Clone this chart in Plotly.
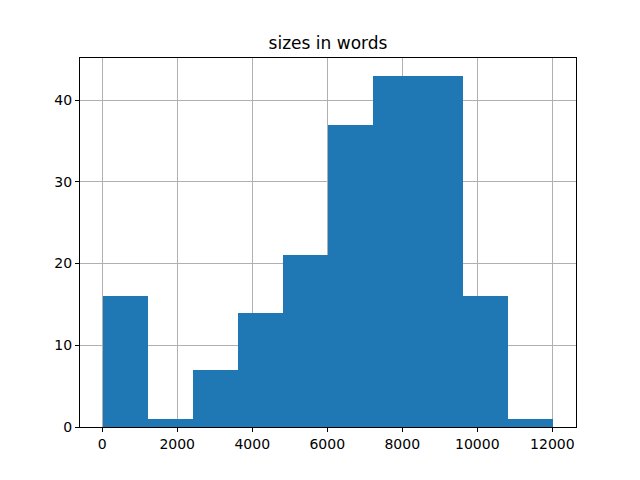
import plotly.graph_objects as go

# Histogram data (bin edges and counts)
bin_edges = [10, 1212, 2414, 3616, 4818, 6020, 7222, 8424, 9626, 10828, 12030]
counts = [16, 1, 7, 14, 21, 37, 43, 43, 16, 1]
x_ticks = [0, 2000, 4000, 6000, 8000, 10000, 12000]
x_tick_labels = ["0", "2000", "4000", "6000", "8000", "10000", "12000"]
y_ticks = [0, 10, 20, 30, 40]
y_tick_labels = ["0", "10", "20", "30", "40"]
title_text = "sizes in words"

centers = [(a + b) / 2 for a, b in zip(bin_edges[:-1], bin_edges[1:])]
widths = [b - a for a, b in zip(bin_edges[:-1], bin_edges[1:])]

span = bin_edges[-1] - bin_edges[0]
x_range = [bin_edges[0] - 0.05 * span, bin_edges[-1] + 0.05 * span]
y_range = [0, max(counts) * 1.05]

fig = go.Figure(go.Bar(
    x=centers, y=counts, width=widths,
    marker=dict(color="#1f77b4", line=dict(width=0)),
))

axis_common = dict(
    showline=True, linecolor="black", linewidth=1, mirror=True,
    ticks="outside", ticklen=4, tickcolor="black", tickwidth=1,
    showgrid=True, gridcolor="#b0b0b0", gridwidth=0.8,
    zeroline=False, layer="above traces",
    tickfont=dict(family="DejaVu Sans", size=14, color="black"),
)

fig.update_layout(
    width=640, height=480,
    margin=dict(l=80, r=64, t=58, b=53),
    paper_bgcolor="white", plot_bgcolor="white",
    title=dict(text=title_text, x=0.5, xanchor="center", xref="paper",
               y=1 - 43 / 480, yanchor="middle",
               font=dict(family="DejaVu Sans", size=17, color="black")),
    xaxis=dict(range=x_range, tickvals=x_ticks, ticktext=x_tick_labels, **axis_common),
    yaxis=dict(range=y_range, tickvals=y_ticks, ticktext=y_tick_labels, **axis_common),
    bargap=0, showlegend=False,
)

fig.write_html("out.html", config={"displayModeBar": False})

with open("out.html", "r", encoding="utf-8") as f:
    html = f.read()
html = html.replace("<head>", "<head><style>html,body{margin:0;padding:0;}</style>", 1)
with open("out.html", "w", encoding="utf-8") as f:
    f.write(html)
